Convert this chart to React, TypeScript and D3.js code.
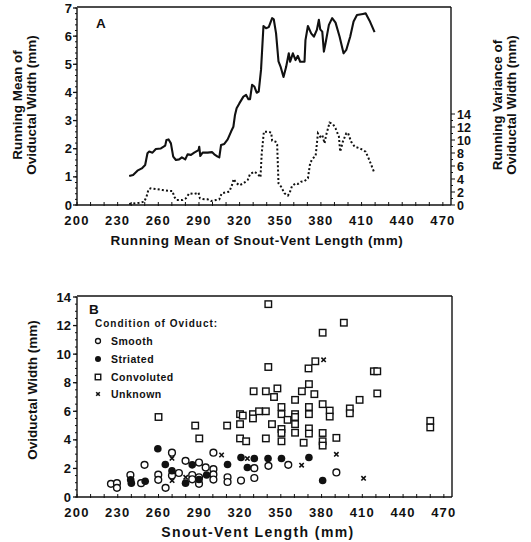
import * as d3 from "d3";

// Panel A: running mean of oviductal width (solid)
const meanSVL = [238.5, 241.4, 244.6, 247.8, 250.3, 252, 253.3, 255.7, 258.2, 261.9, 265.1, 266, 267.6, 269.3, 271, 273, 275.4, 277.4, 279.9, 281.6, 284.1, 286.5, 289.7, 290.2, 291, 292.7, 296.4, 299.6, 301.3, 303.8, 305, 306.3, 308.7, 311.2, 313.7, 315.4, 316.6, 317.8, 319.8, 322.8, 324.8, 326.5, 327.7, 329.2, 330.9, 332.6, 334.1, 335.8, 337.6, 339.5, 341.5, 344, 345.2, 346.9, 348.7, 350.2, 352.4, 354.3, 356.3, 357.3, 359.3, 361.3, 363, 364.7, 367.9, 368.6, 370.4, 372.8, 374.8, 377, 378.5, 379.5, 381, 382.2, 383.4, 385.9, 388.3, 390.8, 393.8, 396.7, 398.7, 401.6, 404.1, 406.6, 411, 413, 415.9, 419.6];
const meanWidth = [1.03, 1.07, 1.22, 1.3, 1.42, 1.84, 1.9, 1.86, 1.99, 2.01, 2.11, 2.31, 2.33, 2.19, 1.72, 1.6, 1.62, 1.69, 1.62, 1.8, 1.78, 1.86, 1.95, 2.07, 1.74, 1.86, 1.86, 1.88, 1.8, 1.72, 1.69, 2.13, 2.17, 2.33, 2.61, 2.78, 3.2, 3.44, 3.61, 3.85, 3.91, 3.76, 3.76, 4.27, 4.21, 3.99, 4.03, 4.8, 6.36, 6.28, 6.32, 6.64, 6.6, 6.1, 5.1, 4.92, 4.55, 4.9, 5.39, 5.09, 5.39, 5.15, 5.3, 5.09, 5.09, 5.86, 6.36, 6.1, 5.98, 6.22, 6.58, 6.24, 6.16, 5.45, 5.75, 6.4, 6.64, 6.48, 5.98, 5.39, 5.51, 5.98, 6.52, 6.75, 6.79, 6.81, 6.55, 6.14];

// Panel A: running variance (dotted, right axis)
const varSVL = [238.5, 245.9, 249.6, 251.3, 252.8, 254.5, 258.2, 263.1, 268, 270.5, 271.7, 273.5, 277.9, 280.4, 282.8, 286.5, 289.7, 290.7, 292.7, 296.4, 298.9, 302.6, 305, 306.8, 310, 312.4, 314.4, 315.6, 317.3, 319.8, 322.8, 326, 327.7, 330.9, 333.4, 335.4, 336.3, 337.9, 340.8, 343.3, 344, 346.5, 347.7, 348.7, 350.6, 353.1, 355.6, 356.8, 358.7, 361.2, 363, 365.4, 367.9, 370.4, 372.1, 374.1, 376.1, 377.8, 379.5, 381, 382.7, 383.9, 386.4, 388.8, 390.8, 393.3, 394.2, 396.2, 398.7, 399.9, 402.3, 404.9, 408.6, 413, 415.5, 419.6];
const varWidth = [0.15, 0.36, 0.5, 1.28, 2.41, 2.56, 2.46, 2.3, 2.15, 2.15, 1.28, 0.77, 0.77, 1.03, 1.79, 1.69, 1.9, 1.03, 0.92, 0.87, 0.62, 0.77, 0.87, 1.79, 1.95, 2.05, 3.08, 4.0, 3.44, 3.03, 3.33, 3.85, 4.77, 5.13, 4.77, 4.26, 7.85, 11.28, 11.28, 11.13, 9.9, 9.74, 9.33, 3.33, 2.82, 1.79, 1.44, 1.79, 2.92, 3.33, 3.23, 3.59, 3.69, 4.1, 6.51, 7.18, 7.54, 11.03, 10.51, 10.77, 9.49, 10.77, 12.67, 12.46, 11.79, 10.51, 8.21, 9.74, 11.03, 11.13, 9.74, 8.97, 8.72, 8.21, 7.03, 4.87];

// Panel B: individual specimens by oviduct condition
const smoothSVL = [225, 229.4, 229.4, 239.3, 247.2, 249.7, 259.8, 259.8, 265.2, 269.9, 269.9, 275, 279.9, 284.8, 284.8, 289.8, 289.8, 289.8, 294.7, 300.4, 300.4, 300.4, 300.4, 310.8, 310.8, 320.7, 330.5, 330.5, 340.9, 355.5, 390.9];
const smoothWidth = [0.92, 0.97, 0.64, 1.54, 0.97, 2.25, 1.56, 1.2, 0.64, 3.1, 1.5, 1.68, 2.53, 1.54, 1.24, 2.41, 1.38, 0.92, 2.07, 3.1, 1.95, 1.58, 1.22, 1.38, 1.05, 1.15, 2.02, 1.33, 2.18, 2.25, 1.72];

const striatedSVL = [239.5, 240, 250.2, 259.5, 265, 269.9, 279.9, 284.8, 289.8, 295.4, 310.8, 320.7, 325.4, 330.5, 340.6, 350.5, 370.7, 380.8];
const striatedWidth = [1.2, 0.97, 1.1, 3.38, 2.28, 1.84, 0.97, 2.25, 1.22, 1.54, 2.28, 2.76, 2.07, 2.69, 2.69, 2.69, 2.76, 1.15];

const convolutedSVL = [260, 287, 290, 310.5, 320, 320, 320, 322, 324.5, 329.5, 329.5, 330, 334, 339, 339, 339, 340.8, 340.8, 345, 347.5, 343.5, 350.5, 350.5, 350.5, 350.5, 350.5, 355, 360.5, 360.5, 360.5, 360.5, 360.5, 365.5, 366.8, 370.7, 370.4, 370.7, 370.7, 370.7, 370.7, 374.7, 375.4, 380.8, 380.8, 380.8, 380.8, 380.8, 386, 386, 390.9, 396.4, 400.8, 400.8, 408, 418.5, 421, 421, 460, 460];
const convolutedWidth = [5.6, 5.0, 4.1, 5.0, 5.8, 5.1, 4.1, 5.7, 3.9, 5.8, 5.5, 7.4, 6.0, 6.0, 7.4, 4.1, 13.5, 9.1, 7.0, 7.6, 5.1, 6.3, 5.8, 4.76, 4.48, 3.9, 5.4, 6.8, 5.8, 5.6, 5.1, 4.5, 7.4, 3.8, 7.9, 9.0, 6.3, 5.8, 4.8, 4.44, 7.2, 9.5, 11.5, 6.5, 4.48, 3.9, 3.6, 6.05, 5.63, 4.14, 12.2, 6.2, 5.86, 6.8, 8.8, 8.8, 7.25, 5.33, 4.87];

const unknownSVL = [269.9, 270, 280, 306.4, 325.4, 365.3, 381.5, 390.9, 410.9];
const unknownWidth = [2.71, 1.15, 1.38, 2.94, 2.69, 2.23, 9.6, 2.99, 1.31];

const xTickValues = [200, 230, 260, 290, 320, 350, 380, 410, 440, 470];
const meanTicks = [0, 1, 2, 3, 4, 5, 6, 7];
const varTicks = [0, 2, 4, 6, 8, 10, 12, 14];
const widthTicks = [0, 2, 4, 6, 8, 10, 12, 14];
const legendLabels = ["Smooth", "Striated", "Convoluted", "Unknown"];

const FONT = "'Liberation Sans', Arial, Helvetica, sans-serif";
const INK = "#111";

function XAxis({ x, y0, yTop }: { x: d3.ScaleLinear<number, number>; y0: number; yTop: number }) {
  const minor = d3.range(200, 471, 10);
  const [r0, r1] = x.range();
  return (
    <g>
      <line x1={r0} x2={r1} y1={y0} y2={y0} stroke={INK} strokeWidth={1.4} />
      <line x1={r0} x2={r1} y1={yTop} y2={yTop} stroke={INK} strokeWidth={1.4} />
      <line x1={r1} x2={r1} y1={yTop} y2={y0} stroke={INK} strokeWidth={1.4} />
      {minor.map((v) => (
        <line key={v} x1={x(v)} x2={x(v)} y1={y0 - 3} y2={y0 + 1} stroke={INK} strokeWidth={1} />
      ))}
      {xTickValues.map((v) => (
        <text key={v} x={x(v)} y={y0 + 19.5} textAnchor="middle" fontSize={13} fontWeight="bold" letterSpacing={1.2} fill={INK}>
          {v}
        </text>
      ))}
    </g>
  );
}

function YAxis({ y, x0, major, step, labelX }: { y: d3.ScaleLinear<number, number>; x0: number; major: number[]; step: number; labelX: number }) {
  const [d0, d1] = y.domain();
  const minor = d3.range(d0, d1 + 1e-6, step);
  return (
    <g>
      <line x1={x0} x2={x0} y1={y.range()[0]} y2={y.range()[1]} stroke={INK} strokeWidth={1.4} />
      {minor.map((v) => (
        <line key={v} x1={x0 - 2} x2={x0} y1={y(v)} y2={y(v)} stroke={INK} strokeWidth={1} />
      ))}
      {major.map((v) => (
        <g key={v}>
          <line x1={x0 - 4} x2={x0} y1={y(v)} y2={y(v)} stroke={INK} strokeWidth={1.3} />
          <text x={labelX} y={y(v) + 4.5} textAnchor="end" fontSize={13} fontWeight="bold" fill={INK}>
            {v}
          </text>
        </g>
      ))}
    </g>
  );
}

export default function App() {
  const xA = d3.scaleLinear().domain([200, 476]).range([77, 451]);
  const yA = d3.scaleLinear().domain([0, 7]).range([205, 8]);
  const yVar = d3.scaleLinear().domain([0, 14]).range([205, 114]);
  const xB = d3.scaleLinear().domain([200, 476]).range([77, 452]);
  const yB = d3.scaleLinear().domain([0, 14]).range([497, 297]);

  const meanLine = d3
    .line<number>()
    .x((d, i) => xA(meanSVL[i]))
    .y((d) => yA(d));
  const varLine = d3
    .line<number>()
    .x((d, i) => xA(varSVL[i]))
    .y((d) => yVar(d));

  const square = (cx: number, cy: number, k: string, s = 6.5) => (
    <rect key={k} x={cx - s / 2} y={cy - s / 2} width={s} height={s} fill="white" stroke={INK} strokeWidth={1.4} />
  );
  const cross = (cx: number, cy: number, k: string, s = 2.2) => (
    <path key={k} d={`M${cx - s},${cy - s}L${cx + s},${cy + s}M${cx - s},${cy + s}L${cx + s},${cy - s}`} stroke={INK} strokeWidth={1.6} />
  );

  const legendY = [341, 359, 377, 394];

  return (
    <div style={{ position: "absolute", left: 0, top: 0, background: "white" }}>
      <svg width={531} height={542} fontFamily={FONT} style={{ display: "block" }}>
        <rect width={531} height={542} fill="white" />

        {/* Panel A */}
        <XAxis x={xA} y0={205} yTop={7} />
        <YAxis y={yA} x0={77} major={meanTicks} step={0.2} labelX={72} />
        {/* right variance axis */}
        {d3.range(0, 14.01, 1).map((v) => (
          <line key={v} x1={451} x2={v % 2 === 0 ? 455 : 453} y1={yVar(v)} y2={yVar(v)} stroke={INK} strokeWidth={1} />
        ))}
        {varTicks.map((v) => (
          <text key={v} x={457} y={yVar(v) + 4.5} fontSize={12.5} fontWeight="bold" fill={INK}>
            {v}
          </text>
        ))}
        <path d={meanLine(meanWidth) ?? ""} fill="none" stroke={INK} strokeWidth={2.1} strokeLinejoin="round" />
        <path d={varLine(varWidth) ?? ""} fill="none" stroke={INK} strokeWidth={2} strokeDasharray="2 2.2" />
        <text x={96} y={28} fontSize={13.5} fontWeight="bold" fill={INK}>A</text>
        <text x={257} y={245} textAnchor="middle" fontSize={13.5} fontWeight="bold" letterSpacing={0.6} fill={INK}>
          Running Mean of Snout-Vent Length (mm)
        </text>
        <g transform="translate(24,105) rotate(-90)">
          <text x={0} y={-2} textAnchor="middle" fontSize={13.5} fontWeight="bold" fill={INK}>Running Mean of</text>
          <text x={0} y={11.5} textAnchor="middle" fontSize={13.5} fontWeight="bold" fill={INK}>Oviductal Width (mm)</text>
        </g>
        <g transform="translate(503,105) rotate(-90)">
          <text x={0} y={-1} textAnchor="middle" fontSize={13.5} fontWeight="bold" fill={INK}>Running Variance of</text>
          <text x={0} y={12.5} textAnchor="middle" fontSize={13.5} fontWeight="bold" fill={INK}>Oviductal Width (mm)</text>
        </g>

        {/* Panel B */}
        <XAxis x={xB} y0={497} yTop={296} />
        <YAxis y={yB} x0={77} major={widthTicks} step={0.5} labelX={71} />
        <text x={258} y={537} textAnchor="middle" fontSize={14} fontWeight="bold" letterSpacing={1.4} fill={INK}>
          Snout-Vent Length (mm)
        </text>
        <text transform="translate(37,390) rotate(-90)" textAnchor="middle" fontSize={13.5} fontWeight="bold" fill={INK}>
          Oviductal Width (mm)
        </text>
        <text x={89} y={314} fontSize={13.5} fontWeight="bold" fill={INK}>B</text>
        <text x={95} y={327} fontSize={10} fontWeight="bold" letterSpacing={1} fill={INK}>Condition of Oviduct:</text>
        {legendLabels.map((l, i) => (
          <text key={l} x={111} y={legendY[i] + 4} fontSize={10.5} fontWeight="bold" letterSpacing={0.5} fill={INK}>
            {l}
          </text>
        ))}
        <circle cx={98} cy={legendY[0]} r={2.5} fill="white" stroke={INK} strokeWidth={1.3} />
        <circle cx={98} cy={legendY[1]} r={3} fill={INK} />
        {square(98, legendY[2], "lg", 5.5)}
        {cross(98, legendY[3], "lx", 1.8)}

        {convolutedSVL.map((v, i) => square(xB(v), yB(convolutedWidth[i]), `c${i}`))}
        {smoothSVL.map((v, i) => (
          <circle key={`s${i}`} cx={xB(v)} cy={yB(smoothWidth[i])} r={3.4} fill="white" stroke={INK} strokeWidth={1.4} />
        ))}
        {striatedSVL.map((v, i) => (
          <circle key={`f${i}`} cx={xB(v)} cy={yB(striatedWidth[i])} r={3.8} fill={INK} />
        ))}
        {unknownSVL.map((v, i) => cross(xB(v), yB(unknownWidth[i]), `u${i}`))}
      </svg>
    </div>
  );
}
